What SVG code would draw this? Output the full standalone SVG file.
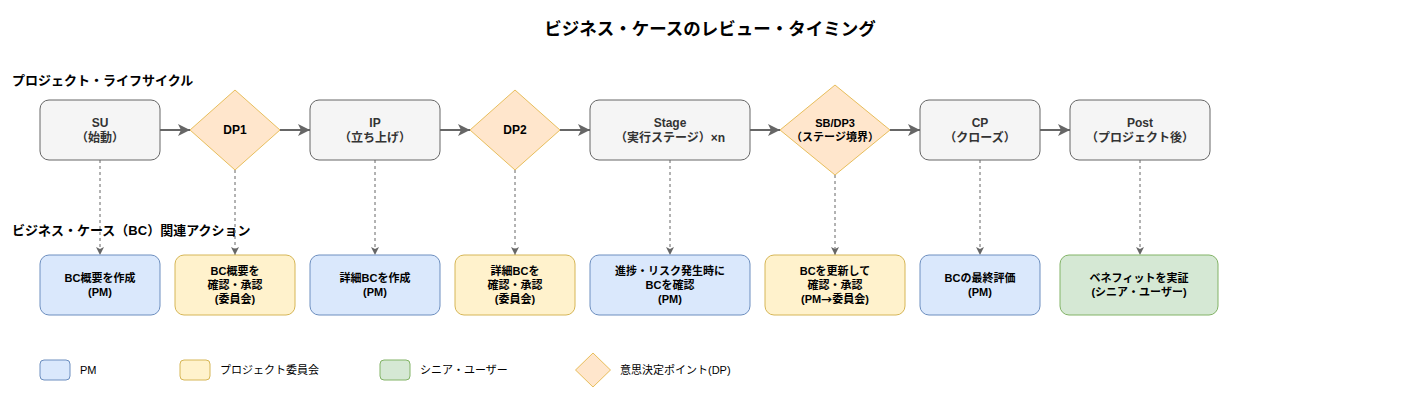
<svg xmlns="http://www.w3.org/2000/svg" width="1422" height="400" viewBox="0 0 1422 400">
<defs>
<marker id="ah" viewBox="0 0 10 10" refX="10" refY="5" markerWidth="6.5" markerHeight="6" markerUnits="strokeWidth" orient="auto">
<path d="M0,0 L10,5 L0,10 L2.5,5 Z" fill="#666666"/>
</marker>
<marker id="ahs" viewBox="0 0 10 10" refX="10" refY="5" markerWidth="8" markerHeight="8" markerUnits="userSpaceOnUse" orient="auto">
<path d="M0,0 L10,5 L0,10 L2.5,5 Z" fill="#666666"/>
</marker>
<style>
text{font-family:"Liberation Sans","Noto Sans CJK JP",sans-serif;dominant-baseline:central;text-anchor:middle}
.cjk{font-family:"Noto Sans CJK JP",sans-serif}
.title{font-size:17.5px;font-weight:bold;fill:#000}
.sec{font-size:13px;font-weight:bold;text-anchor:start;fill:#000}
.ph{fill:#f5f5f5;stroke:#666666;stroke-width:1}
.ph-t{font-size:12px;font-weight:bold;fill:#333333}
.dp{fill:#ffe6cc;stroke:#d79b00;stroke-width:1;stroke-opacity:0.6}
.dp-t{font-size:12px;font-weight:bold;fill:#000}
.dp-ts{font-size:11px;font-weight:bold;fill:#000}
.pm{fill:#dae8fc;stroke:#6c8ebf;stroke-width:1}
.cm{fill:#fff2cc;stroke:#d6b656;stroke-width:1}
.su{fill:#d5e8d4;stroke:#82b366;stroke-width:1}
.ac-t{font-size:11px;font-weight:bold;fill:#000}
.lg-t{font-size:11px;text-anchor:start;fill:#000}
.flow{stroke:#666666;stroke-width:2;fill:none;marker-end:url(#ah)}
.dash{stroke:#666666;stroke-width:1;stroke-dasharray:3 3;fill:none;marker-end:url(#ahs)}
</style>
</defs>
<rect width="1422" height="400" fill="#ffffff"/>
<text class="title" x="710" y="28.5">ビジネス・ケースのレビュー・タイミング</text>
<text class="sec" x="12" y="80">プロジェクト・ライフサイクル</text>
<text class="sec" x="12" y="230">ビジネス・ケース（BC）関連アクション</text>

<g id="connectors">
<line class="flow" x1="160" y1="130" x2="190" y2="130"/>
<line class="flow" x1="280" y1="130" x2="310" y2="130"/>
<line class="flow" x1="440" y1="130" x2="470" y2="130"/>
<line class="flow" x1="560" y1="130" x2="590" y2="130"/>
<line class="flow" x1="750" y1="130" x2="780" y2="130"/>
<line class="flow" x1="890" y1="130" x2="920" y2="130"/>
<line class="flow" x1="1040" y1="130" x2="1070" y2="130"/>
<line class="dash" x1="100" y1="160" x2="100" y2="255"/>
<line class="dash" x1="235" y1="170" x2="235" y2="255"/>
<line class="dash" x1="375" y1="160" x2="375" y2="255"/>
<line class="dash" x1="515" y1="170" x2="515" y2="255"/>
<line class="dash" x1="670" y1="160" x2="670" y2="255"/>
<line class="dash" x1="835" y1="175" x2="835" y2="255"/>
<line class="dash" x1="980" y1="160" x2="980" y2="255"/>
<line class="dash" x1="1140" y1="160" x2="1140" y2="255"/>
</g>

<g id="su">
<rect class="ph" x="40" y="100" width="120" height="60" rx="9"/>
<text class="ph-t" x="100" y="123">SU</text>
<text class="ph-t" x="100" y="137.5">（始動）</text>
</g>
<g id="dp1">
<polygon class="dp" points="235,90 280,130 235,170 190,130"/>
<text class="dp-t" x="235" y="130">DP1</text>
</g>
<g id="ip">
<rect class="ph" x="310" y="100" width="130" height="60" rx="9"/>
<text class="ph-t" x="375" y="123">IP</text>
<text class="ph-t" x="375" y="137.5">（立ち上げ）</text>
</g>
<g id="dp2">
<polygon class="dp" points="515,90 560,130 515,170 470,130"/>
<text class="dp-t" x="515" y="130">DP2</text>
</g>
<g id="stage">
<rect class="ph" x="590" y="100" width="160" height="60" rx="9"/>
<text class="ph-t" x="670" y="123">Stage</text>
<text class="ph-t" x="670" y="137.5">（実行ステージ）×n</text>
</g>
<g id="dp3">
<polygon class="dp" points="835,85 890,130 835,175 780,130"/>
<text class="dp-ts" x="835" y="123">SB/DP3</text>
<text class="dp-ts" x="835" y="137">（ステージ境界）</text>
</g>
<g id="cp">
<rect class="ph" x="920" y="100" width="120" height="60" rx="9"/>
<text class="ph-t" x="980" y="123">CP</text>
<text class="ph-t" x="980" y="137.5">（クローズ）</text>
</g>
<g id="post">
<rect class="ph" x="1070" y="100" width="140" height="60" rx="9"/>
<text class="ph-t" x="1140" y="123">Post</text>
<text class="ph-t" x="1140" y="137.5">（プロジェクト後）</text>
</g>

<g id="a1">
<rect class="pm" x="40" y="255" width="120" height="60" rx="9"/>
<text class="ac-t" x="100" y="278">BC概要を作成</text>
<text class="ac-t" x="100" y="292">(PM)</text>
</g>
<g id="a2">
<rect class="cm" x="175" y="255" width="120" height="60" rx="9"/>
<text class="ac-t" x="235" y="271">BC概要を</text>
<text class="ac-t" x="235" y="285">確認・承認</text>
<text class="ac-t" x="235" y="299">(委員会)</text>
</g>
<g id="a3">
<rect class="pm" x="310" y="255" width="130" height="60" rx="9"/>
<text class="ac-t" x="375" y="278">詳細BCを作成</text>
<text class="ac-t" x="375" y="292">(PM)</text>
</g>
<g id="a4">
<rect class="cm" x="455" y="255" width="120" height="60" rx="9"/>
<text class="ac-t" x="515" y="271">詳細BCを</text>
<text class="ac-t" x="515" y="285">確認・承認</text>
<text class="ac-t" x="515" y="299">(委員会)</text>
</g>
<g id="a5">
<rect class="pm" x="590" y="255" width="160" height="60" rx="9"/>
<text class="ac-t" x="670" y="271">進捗・リスク発生時に</text>
<text class="ac-t" x="670" y="285">BCを確認</text>
<text class="ac-t" x="670" y="299">(PM)</text>
</g>
<g id="a6">
<rect class="cm" x="765" y="255" width="140" height="60" rx="9"/>
<text class="ac-t" x="835" y="271">BCを更新して</text>
<text class="ac-t" x="835" y="285">確認・承認</text>
<text class="ac-t" x="835" y="299">(PM<tspan class="cjk">→</tspan>委員会)</text>
</g>
<g id="a7">
<rect class="pm" x="920" y="255" width="120" height="60" rx="9"/>
<text class="ac-t" x="980" y="278">BCの最終評価</text>
<text class="ac-t" x="980" y="292">(PM)</text>
</g>
<g id="a8">
<rect class="su" x="1060" y="255" width="158" height="60" rx="9"/>
<text class="ac-t" x="1139" y="278">ベネフィットを実証</text>
<text class="ac-t" x="1139" y="292">(シニア・ユーザー)</text>
</g>

<g id="legend">
<rect class="pm" x="40" y="360" width="30" height="20" rx="4"/>
<text class="lg-t" x="80" y="370">PM</text>
<rect class="cm" x="180" y="360" width="30" height="20" rx="4"/>
<text class="lg-t" x="220" y="370">プロジェクト委員会</text>
<rect class="su" x="380" y="360" width="30" height="20" rx="4"/>
<text class="lg-t" x="420" y="370">シニア・ユーザー</text>
<polygon class="dp" points="593,353 610.5,370 593,387 575.5,370"/>
<text class="lg-t" x="620" y="370">意思決定ポイント(DP)</text>
</g>
</svg>
